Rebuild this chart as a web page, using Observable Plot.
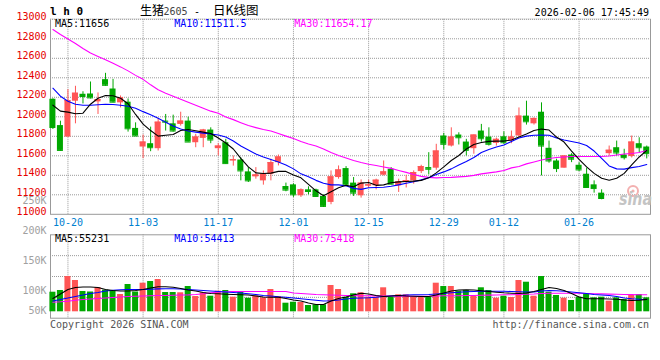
<!DOCTYPE html>
<html><head><meta charset="utf-8">
<script src="https://cdn.jsdelivr.net/npm/d3@7"></script>
<script src="https://cdn.jsdelivr.net/npm/@observablehq/plot@0.6"></script>
<style>
html,body{margin:0;padding:0;background:#fff;}
#chart{position:relative;width:660px;height:360px;overflow:hidden;background:#fff;}
#chart svg{position:absolute;left:0;top:0;}
</style></head><body><div id="chart"></div>
<script>
const dates = ["10-16","10-17","10-20","10-21","10-22","10-23","10-24","10-27","10-28","10-29","10-30","10-31","11-03","11-04","11-05","11-06","11-07","11-10","11-11","11-12","11-13","11-14","11-17","11-18","11-19","11-20","11-21","11-24","11-25","11-26","11-27","11-28","12-01","12-02","12-03","12-04","12-05","12-08","12-09","12-10","12-11","12-12","12-15","12-16","12-17","12-18","12-19","12-22","12-23","12-24","12-25","12-26","12-29","12-30","12-31","01-05","01-06","01-07","01-08","01-09","01-12","01-13","01-14","01-15","01-16","01-19","01-20","01-21","01-22","01-23","01-26","01-27","01-28","01-29","01-30","02-02","02-03","02-04","02-05","02-06"];
const open = [12180,11910,11792,12160,12231,12234,12153,12381,12285,12143, 12150,11881,11690,11724,11673,11956,11928,11922,11956,11734, 11779,11864,11673,11734,11547,11557,11435,11384,11343,11411, 11530,11285,11302,11190,11251,11251,11183,11122,11377,11469, 11320,11190,11289,11292,11401,11462,11292,11330,11343,11438, 11479,11473,11803,11700,11813,11741,11673,11854,11792,11728, 11795,11751,11803,12007,11928,12047,11677,11547,11473,11608, 11503,11411,11302,11217,11622,11683,11608,11593,11724,11690];
const high = [12185,11955,12279,12313,12257,12357,12245,12446,12384,12214, 12183,11938,11813,11894,11983,12024,12017,12047,11996,11820, 11871,11887,11724,11769,11598,11578,11479,11479,11445,11565, 11608,11320,11312,11261,11282,11258,11200,11445,11496,11489, 11377,11353,11350,11360,11547,11479,11360,11400,11445,11503, 11632,11718,11830,11887,11836,11769,11813,11922,11887,11782, 11846,11854,12091,12160,11989,12143,11751,11565,11598,11622, 11530,11473,11343,11251,11700,11751,11667,11803,11785,11700];
const low = [11870,11645,11790,11928,12132,12183,12024,12313,12143,12091, 11843,11800,11571,11642,11649,11854,11843,11905,11741,11683, 11683,11724,11598,11514,11494,11343,11326,11360,11299,11343, 11496,11231,11173,11173,11200,11173,11070,11098,11360,11292, 11183,11166,11268,11251,11394,11302,11224,11270,11309,11418, 11404,11452,11660,11690,11711,11598,11616,11741,11700,11700, 11718,11724,11792,11915,11915,11394,11524,11428,11473,11530, 11438,11275,11217,11149,11598,11598,11557,11578,11629,11568];
const close = [11890,11655,12167,12242,12208,12194,12177,12323,12150,12194, 11877,11803,11741,11683,11945,11945,11854,11956,11741,11792, 11864,11762,11700,11520,11560,11445,11343,11404,11411,11530, 11588,11248,11200,11251,11234,11183,11081,11384,11455,11302, 11217,11320,11302,11350,11435,11309,11333,11345,11428,11489, 11462,11649,11718,11792,11785,11656,11813,11775,11718,11769, 11734,11792,12007,11949,11983,11700,11547,11469,11598,11565, 11455,11275,11264,11162,11657,11629,11581,11741,11683,11622];
const ma5 = [12119,12058,12048,12032,12037,12129,12190,12218,12216,12190, 12134,12024,11925,11859,11802,11810,11818,11859,11869,11857, 11843,11828,11782,11731,11670,11573,11486,11425,11418,11422, 11440,11440,11404,11374,11307,11241,11190,11231,11272,11297, 11282,11320,11326,11297,11302,11323,11333,11336,11340,11348, 11374,11425,11486,11552,11603,11670,11716,11736,11748,11751, 11751,11762,11792,11823,11859,11874,11864,11792,11741,11649, 11563,11486,11420,11369,11350,11369,11420,11506,11588,11656];
const ma10 = [12293,12211,12160,12129,12119,12119,12124,12129,12126,12119, 12109,12088,12053,12022,11986,11945,11905,11874,11854,11843, 11833,11823,11813,11792,11751,11700,11660,11619,11588,11563, 11537,11506,11466,11415,11384,11348,11318,11302,11302,11292, 11266,11256,11272,11275,11277,11287,11302,11318,11333,11353, 11374,11409,11435,11466,11506,11542,11583,11634,11665,11690, 11711,11746,11782,11802,11811,11813,11810,11782,11762,11746, 11731,11706,11649,11573,11496,11466,11463,11479,11491,11511];
const ma30 = [12895,12844,12798,12752,12701,12655,12619,12584,12548,12512, 12471,12425,12384,12328,12277,12242,12211,12180,12150,12119, 12088,12058,12037,11997,11971,11940,11910,11889,11869,11854, 11828,11802,11777,11746,11721,11700,11670,11634,11603,11578, 11552,11532,11514,11501,11486,11471,11450,11430,11409,11389, 11379,11374,11377,11379,11384,11389,11399,11415,11425,11435, 11450,11476,11491,11517,11537,11557,11573,11583,11588,11593, 11593,11593,11593,11593,11598,11609,11619,11624,11634,11654];
// volume in thousands (K)
const volume = [87.0,94.6,156.7,139.0,90.1,87.9,107.9,95.9,94.6,76.8, 121.2,87.9,127.0,134.5,143.4,85.7,85.7,84.4,112.3,67.9, 84.4,69.3,91.5,94.6,64.8,90.1,60.4,71.0,62.2,99.0, 67.9,38.2,42.6,41.3,28.0,31.1,31.1,116.8,99.0,64.8, 79.9,84.4,64.8,64.8,106.6,64.8,75.5,75.5,64.8,64.8, 64.8,127.0,112.3,112.3,91.5,94.6,67.9,106.6,94.6,60.4, 69.3,63.5,139.0,131.4,69.3,156.7,87.0,72.4,60.4,50.2, 64.8,79.9,62.2,64.8,47.1,62.2,54.6,72.4,76.8,62.2];
const vma5 = [59.1,79.0,99.0,107.9,110.1,110.1,107.9,99.0,94.6,92.4, 92.4,94.6,99.0,105.7,111.0,111.0,108.8,103.5,96.8,92.4, 85.7,81.3,79.9,78.1,76.8,75.5,74.6,70.2,65.7,64.8, 64.8,59.1,52.4,48.0,39.1,32.4,32.4,48.0,59.1,65.7, 74.6,82.1,79.0,72.4,67.9,70.2,72.4,70.2,68.8,67.9, 67.9,74.6,83.5,92.4,96.8,97.7,96.8,93.2,90.1,87.0, 84.4,82.6,81.3,83.5,90.1,99.0,107.9,103.5,94.6,81.3, 65.7,57.7,57.7,57.7,56.8,55.5,52.4,50.2,51.5,55.2];
const vma10 = [48.0,54.6,61.3,67.9,74.6,81.3,85.7,92.4,95.9,97.7, 99.0,99.0,99.0,100.3,101.7,102.1,102.1,101.2,99.0,96.8, 94.6,92.4,90.1,87.9,85.7,83.5,79.9,76.8,72.4,70.2, 66.6,64.8,61.3,57.7,54.6,51.5,48.0,48.8,52.4,56.8, 60.4,61.3,62.2,64.4,67.9,70.2,72.4,74.6,75.5,75.9, 76.8,79.0,81.3,84.4,86.6,88.8,90.1,91.0,91.5,91.5, 91.0,90.1,89.2,87.9,87.9,92.4,94.6,93.2,91.5,87.9, 84.4,81.3,76.8,74.6,72.4,67.9,61.3,57.7,56.0,54.4];
const vma30 = [42.6,44.4,47.1,51.5,54.6,56.8,59.1,61.3,63.5,65.7, 67.9,68.8,70.2,71.5,72.4,72.4,73.3,74.6,75.0,77.0, 80.0,84.0,87.9,89.2,90.1,90.1,90.1,90.1,90.1,90.1, 90.1,90.1,83.5,81.3,79.0,76.8,75.5,74.6,73.3,72.4, 71.9,71.5,71.0,70.6,70.2,70.2,69.7,69.7,69.3,69.3, 69.3,70.2,71.0,71.0,71.5,72.4,72.4,73.3,74.1,74.6, 75.5,75.9,76.8,77.7,79.0,81.3,82.6,82.6,82.6,82.6, 82.1,81.3,80.4,79.5,78.6,77.7,76.8,76.4,75.9,75.4];

const xTickLabels = ["10-20","11-03","11-17","12-01","12-15","12-29","01-12","01-26"];
const priceTicks = [11000,11200,11400,11600,11800,12000,12200,12400,12600,12800,13000];
const volTickLabels = [250,200,150,100,50];
const headerPrice = ["MA5:11656","MA10:11511.5","MA30:11654.17"];
const headerVol = ["MA5:55231","MA10:54413","MA30:75418"];

const W = 660, H = 360, ML = 50, MR = 10;
const MONO = "DejaVu Sans Mono, monospace";
const UP = "#ff5555", DN = "#00a800", GRID = "#999", FRAME = "#999";
const C5 = "#000000", C10 = "#0000ff", C30 = "#ff00ff";
const xDomain = [-0.32, 79.5];

const rows = dates.map((d, i) => ({i, date: d, o: open[i], h: high[i], l: low[i], c: close[i], v: volume[i],
  m5: ma5[i], m10: ma10[i], m30: ma30[i], vm5: vma5[i], vm10: vma10[i], vm30: vma30[i]}));
const upRows = rows.filter(d => d.c >= d.o), dnRows = rows.filter(d => d.c < d.o);
const xTicks = xTickLabels.map(s => dates.indexOf(s));
const hw = 0.4;

const candleMarks = (data, col) => [
  Plot.ruleX(data, {x: "i", y1: "l", y2: "h", stroke: col, strokeWidth: 1}),
  Plot.rect(data, {x1: d => d.i - hw, x2: d => d.i + hw, y1: "o", y2: "c", fill: col}),
  Plot.ruleY(data, {x1: d => d.i - hw, x2: d => d.i + hw, y: "c", stroke: col, strokeWidth: 1})
];

const main = Plot.plot({
  width: W, height: H, marginLeft: ML, marginRight: MR, marginTop: 18.8, marginBottom: 146.2,
  x: {domain: xDomain}, y: {domain: [11000, 13000]},
  style: {background: "transparent", fontFamily: MONO, fontSize: "10px"},
  marks: [
    Plot.frame({stroke: FRAME}),
    Plot.ruleY([13000], {stroke: "#fff"}),
    Plot.gridY(priceTicks.filter(t => t > 11000), {stroke: GRID, strokeOpacity: 1, strokeDasharray: "1,1"}),
    Plot.gridX(xTicks, {stroke: GRID, strokeOpacity: 1, strokeDasharray: "1,1"}),
    Plot.axisY(priceTicks, {tickSize: 0, tickPadding: 4, fill: "#e60000", dy: -2.2, fontSize: 10, fontFamily: MONO, tickFormat: d => String(d), label: null}),
    Plot.axisX(xTicks, {tickSize: 0, tickPadding: 4.1, fill: "#0080d0", fontSize: 10, fontFamily: MONO, tickFormat: i => dates[i], label: null}),
    ...candleMarks(upRows, UP),
    ...candleMarks(dnRows, DN),
    Plot.line(rows, {x: "i", y: "m30", stroke: C30, strokeWidth: 1.1}),
    Plot.line(rows, {x: "i", y: "m10", stroke: C10, strokeWidth: 1.1}),
    Plot.line(rows, {x: "i", y: "m5", stroke: C5, strokeWidth: 1.1})
  ]
});

const vLo = -28.4, vHi = 341.9;
const volGrid = [1, 2, 3].map(k => vLo + (vHi - vLo) * k / 4);
const vol = Plot.plot({
  width: W, height: H, marginLeft: ML, marginRight: MR, marginTop: 234.3, marginBottom: 42.3,
  x: {domain: xDomain, axis: null}, y: {domain: [vLo, vHi], axis: null},
  style: {background: "transparent"},
  marks: [
    Plot.frame({stroke: FRAME}),
    Plot.gridY(volGrid, {stroke: GRID, strokeOpacity: 1, strokeDasharray: "1,1"}),
    Plot.gridX(xTicks, {stroke: GRID, strokeOpacity: 1, strokeDasharray: "1,1"}),
    Plot.rect(upRows, {x1: d => d.i - hw, x2: d => d.i + hw, y1: 0, y2: "v", fill: UP}),
    Plot.rect(dnRows, {x1: d => d.i - hw, x2: d => d.i + hw, y1: 0, y2: "v", fill: DN}),
    Plot.line(rows, {x: "i", y: "vm30", stroke: C30, strokeWidth: 1.1}),
    Plot.line(rows, {x: "i", y: "vm10", stroke: C10, strokeWidth: 1.1}),
    Plot.line(rows, {x: "i", y: "vm5", stroke: C5, strokeWidth: 1.1})
  ]
});

const volAxis = Plot.plot({
  width: W, height: H, marginLeft: ML, marginRight: MR, marginTop: 200.3, marginBottom: 39.7,
  y: {domain: [50, 250]},
  style: {background: "transparent"},
  marks: [
    Plot.axisY(volTickLabels.filter(v => v > 50), {tickSize: 0, tickPadding: 4, fill: "#a0a0a0", fontSize: 10, fontFamily: MONO, tickFormat: d => d + "K", label: null}),
    Plot.axisY(volTickLabels.filter(v => v === 50), {tickSize: 0, tickPadding: 4, fill: "#a0a0a0", fontSize: 10, fontFamily: MONO, dy: -9.8, tickFormat: d => d + "K", label: null})
  ]
});

const root = document.getElementById("chart");
root.appendChild(main);
root.appendChild(vol);
root.appendChild(volAxis);

// text layer
const svg = d3.select(root).append("svg").attr("width", W).attr("height", H);
const txt = (x, y, s, o = {}) => svg.append("text").attr("x", x).attr("y", y)
  .attr("font-family", o.font || MONO).attr("font-size", o.size || 10)
  .attr("font-weight", o.weight || "normal").attr("font-style", o.style || "normal")
  .attr("fill", o.fill || "#000").attr("text-anchor", o.anchor || "start").text(s);

txt(50, 15, "l h 0", {weight: "bold", size: 11});
txt(140, 14.5, "生猪", {font: "Noto Sans CJK SC", size: 12});
txt(163.5, 14.5, "2605", {fill: "#444"});
txt(194, 14.5, "-", {size: 10});
txt(213, 14.5, "日K线图", {font: "Noto Sans CJK SC", size: 12.5});
txt(649, 16, "2026-02-06 17:45:49", {anchor: "end"});

const hx = [55, 174.3, 294.3], hc = [C5, C10, C30];
headerPrice.forEach((s, k) => txt(hx[k], 27.3, s, {fill: hc[k]}));
headerVol.forEach((s, k) => txt(hx[k], 242.3, s, {fill: hc[k]}));

txt(50, 327.7, "Copyright 2026 SINA.COM", {fill: "#555"});
txt(649, 327.7, "http://finance.sina.com.cn", {fill: "#555", anchor: "end"});

// sina watermark
svg.append("circle").attr("cx", 633).attr("cy", 191).attr("r", 5).attr("fill", "none").attr("stroke", "#f3b0b0").attr("stroke-width", 2);
svg.append("circle").attr("cx", 633).attr("cy", 191).attr("r", 1.6).attr("fill", "#f3b0b0");
txt(619, 205, "sina", {font: "DejaVu Sans", size: 17, weight: "bold", style: "italic", fill: "#c4c4c4"})
  .attr("textLength", 33).attr("lengthAdjust", "spacingAndGlyphs");
</script>
</body></html>
